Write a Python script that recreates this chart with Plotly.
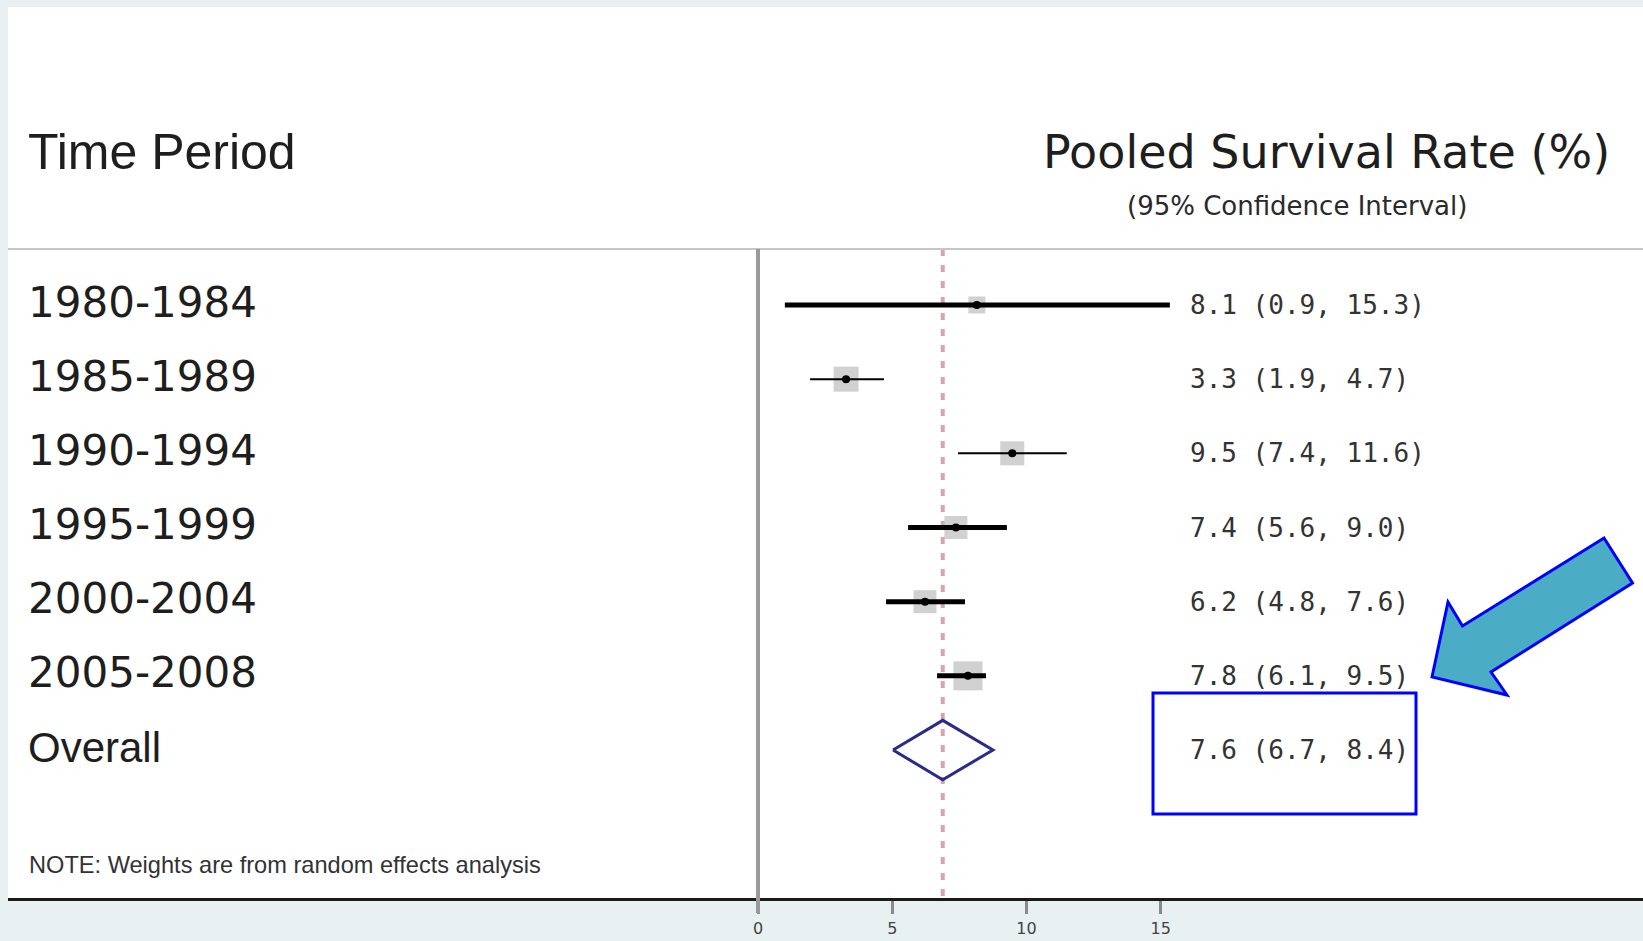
import plotly.graph_objects as go
import math

# ---------------- data ----------------
periods = ["1980-1984", "1985-1989", "1990-1994", "1995-1999", "2000-2004", "2005-2008"]
est = [8.15, 3.28, 9.47, 7.37, 6.22, 7.82]
ci_low = [1.0, 1.94, 7.45, 5.59, 4.77, 6.67]
ci_high = [15.34, 4.69, 11.5, 9.27, 7.71, 8.49]
weights = [8.5, 18.4, 17.0, 15.6, 15.6, 24.8]
ci_labels = ["8.1 (0.9, 15.3)", "3.3 (1.9, 4.7)", "9.5 (7.4, 11.6)",
             "7.4 (5.6, 9.0)", "6.2 (4.8, 7.6)", "7.8 (6.1, 9.5)"]
overall_label = "Overall"
overall_est = 6.88
overall_low = 5.03
overall_high = 8.75
overall_ci_label = "7.6 (6.7, 8.4)"
x_ticks = [0, 5, 10, 15]

# ---------------- layout geometry (pixels) ----------------
W, H = 1643, 941
L, R, T, B = 8, 0, 7, 43
PW, PH = W - L - R, H - T - B


def px(x):
    return (x - L) / PW


def py(y):
    return (H - B - y) / PH


rows = list(range(1, len(periods) + 1))
overall_row = len(periods) + 1

fig = go.Figure()

# weight boxes
fig.add_trace(go.Scatter(
    x=est, y=rows, mode="markers",
    marker=dict(symbol="square", size=[5.83 * math.sqrt(w) for w in weights],
                color="#BDBDBD", line=dict(width=0)),
    hoverinfo="skip", showlegend=False))

# CI lines
ci_widths = [5, 2, 2, 5, 5, 5]
for r, lo, hi, lw in zip(rows, ci_low, ci_high, ci_widths):
    fig.add_trace(go.Scatter(x=[lo, hi], y=[r, r], mode="lines",
                             line=dict(color="black", width=lw),
                             hoverinfo="skip", showlegend=False))

# point estimates
fig.add_trace(go.Scatter(x=est, y=rows, mode="markers",
                         marker=dict(symbol="circle", size=8, color="black"),
                         hoverinfo="skip", showlegend=False))

# overall diamond
dh = 0.4
fig.add_trace(go.Scatter(
    x=[overall_low, overall_est, overall_high, overall_est, overall_low],
    y=[overall_row, overall_row - dh, overall_row, overall_row + dh, overall_row],
    mode="lines", line=dict(color="#2A2A8C", width=3),
    hoverinfo="skip", showlegend=False))

sep_y = py(249)

shapes = [
    dict(type="line", xref="paper", yref="paper", x0=0, x1=1, y0=sep_y, y1=sep_y,
         line=dict(color="#C6C6C6", width=2)),
    dict(type="line", xref="x", yref="paper", x0=0, x1=0, y0=sep_y, y1=py(913),
         line=dict(color="#9A9A9A", width=4)),
    dict(type="line", xref="x", yref="paper", x0=overall_est, x1=overall_est,
         y0=sep_y, y1=0, line=dict(color="#D9A3AB", width=4, dash="7px,9px"),
         layer="below"),
    dict(type="rect", xref="paper", yref="paper", x0=px(1153), x1=px(1416),
         y0=py(814), y1=py(693), line=dict(color="#0000FF", width=3)),
]

arrow_pts = [(1432, 677), (1448, 602), (1462.5, 626), (1604, 538),
             (1632.5, 583), (1491, 672), (1507, 695)]
path = "M " + " L ".join(f"{px(a):.5f},{py(b):.5f}" for a, b in arrow_pts) + " Z"
shapes.append(dict(type="path", xref="paper", yref="paper", path=path,
                   fillcolor="#4BACC6", line=dict(color="#0000FF", width=3)))

annotations = [
    dict(text="Time Period", xref="paper", yref="paper", x=px(26), y=py(152),
         xanchor="left", yanchor="middle", showarrow=False,
         font=dict(family="Liberation Sans, Arial", size=50, color="#1E1E1E")),
    dict(text="Pooled Survival Rate (%)", xref="paper", yref="paper", x=px(1326), y=py(152),
         xanchor="center", yanchor="middle", showarrow=False,
         font=dict(family="DejaVu Sans", size=46, color="#1E1E1E")),
    dict(text="(95% Confidence Interval)", xref="paper", yref="paper", x=px(1297), y=py(206),
         xanchor="center", yanchor="middle", showarrow=False,
         font=dict(family="DejaVu Sans", size=26, color="#2A2A2A")),
    dict(text="NOTE: Weights are from random effects analysis", xref="paper", yref="paper",
         x=px(27), y=py(865), xanchor="left", yanchor="middle", showarrow=False,
         font=dict(family="Liberation Sans, Arial", size=23.6, color="#333333")),
]

for r, lab, cl in zip(rows, periods, ci_labels):
    annotations.append(dict(text=lab, xref="paper", yref="y", x=px(26), y=r, yshift=3,
                            xanchor="left", yanchor="middle", showarrow=False,
                            font=dict(family="DejaVu Sans", size=42, color="#1E1E1E")))
    annotations.append(dict(text=cl, xref="paper", yref="y", x=px(1188), y=r,
                            xanchor="left", yanchor="middle", showarrow=False,
                            font=dict(family="DejaVu Sans Mono", size=26, color="#333333")))

annotations.append(dict(text=overall_label, xref="paper", yref="y", x=px(26), y=overall_row,
                        yshift=3, xanchor="left", yanchor="middle", showarrow=False,
                        font=dict(family="Liberation Sans, Arial", size=42, color="#1E1E1E")))
annotations.append(dict(text=overall_ci_label, xref="paper", yref="y", x=px(1188),
                        y=overall_row, xanchor="left", yanchor="middle", showarrow=False,
                        font=dict(family="DejaVu Sans Mono", size=26, color="#333333")))

unit = 26.85
x0_px = 758
x_range = [(L - x0_px) / unit, (W - R - x0_px) / unit]

row_px0, row_step = 305, 74.17
y_top = 1 + (T - row_px0) / row_step
y_bot = 1 + (H - B - row_px0) / row_step

fig.update_layout(
    width=W, height=H,
    margin=dict(l=L, r=R, t=T, b=B, pad=0, autoexpand=False),
    paper_bgcolor="#E8F0F2", plot_bgcolor="white",
    shapes=shapes, annotations=annotations, showlegend=False,
    xaxis=dict(range=x_range, tickvals=x_ticks, ticktext=[str(t) for t in x_ticks],
               automargin=False,
               showgrid=False, zeroline=False, showline=True, linecolor="#1A1A1A",
               linewidth=3, ticks="outside", ticklen=13, tickwidth=3,
               tickcolor="#8A8A8A", ticklabelstandoff=1,
               tickfont=dict(family="DejaVu Sans", size=16, color="#444444")),
    yaxis=dict(range=[y_bot, y_top], automargin=False, showgrid=False, zeroline=False,
               showline=False, showticklabels=False, ticks=""),
)

fig.write_html(
    "out.html",
    config={"displayModeBar": False},
    post_script="document.body.style.margin='0px';"
                "document.body.style.overflow='hidden';"
                "document.body.style.background='#E8F0F2';")
